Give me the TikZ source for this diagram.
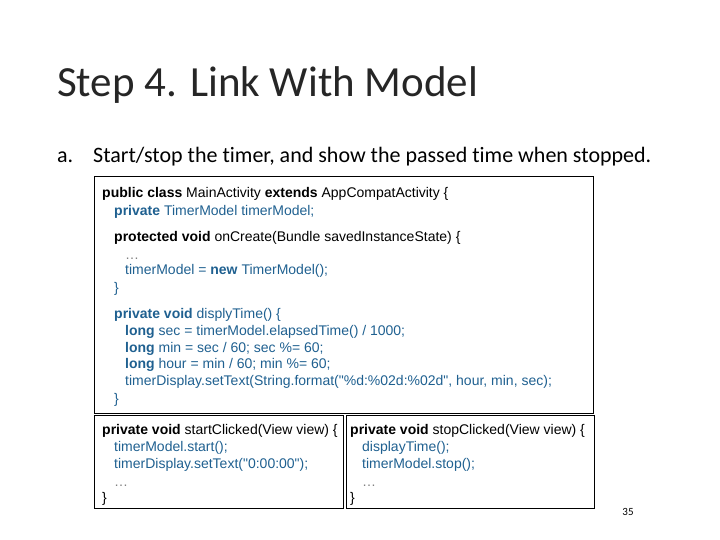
\documentclass[tikz,border=0pt]{standalone}
\usepackage{fontspec}
\setmainfont{Carlito}[Ligatures={NoCommon}]
\newfontfamily\codefont{Liberation Sans}
\usetikzlibrary{positioning}
\definecolor{kwblue}{HTML}{1F6090}
\definecolor{dotgray}{HTML}{808080}
\tikzstyle{codeline} = [anchor=base west, inner sep=0pt, font=\codefont\fontsize{14}{16}\selectfont, text=kwblue]
\tikzstyle{codebox} = [draw=black, line width=0.8pt]
\newcommand{\kw}[1]{\textbf{#1}}

\begin{document}
\begin{tikzpicture}[x=1pt,y=1pt]
\useasboundingbox (0,0) rectangle (720,-540);

% Title and task
\node (title) at (57,-97) [anchor=base west, inner sep=0pt, font=\fontsize{43}{47}\selectfont, text=black!85] {Step 4. Link With Model};
\node (itema) at (57,-163) [anchor=base west, inner sep=0pt, font=\fontsize{22}{26}\selectfont] {a.};
\node (task) at (93,-163) [anchor=base west, inner sep=0pt, font=\fontsize{22}{26}\selectfont] {Start/stop the timer, and show the passed time when stopped.};

% Boxes
\draw [codebox] (94,-176) rectangle (593,-413);
\draw [codebox] (94,-415) rectangle (343,-508);
\draw [codebox] (346,-415) rectangle (594,-508);

% Main class
\node (l1) at (102,-198) [codeline, text=black] {\kw{public class} MainActivity \kw{extends} AppCompatActivity \{};
\node (l2) at (114,-215) [codeline] {\kw{private} TimerModel timerModel;};
\node (l3) at (114,-241) [codeline, text=black] {\kw{protected void} onCreate(Bundle savedInstanceState) \{};
\node (l4) at (125,-259) [codeline, text=dotgray] {\dots};
\node (l5) at (125,-274) [codeline] {timerModel = \kw{new} TimerModel();};
\node (l6) at (114,-292) [codeline] {\}};
\node (l7) at (114,-318) [codeline] {\kw{private void} displyTime() \{};
\node (l8) at (125,-335) [codeline] {\kw{long} sec = timerModel.elapsedTime() / 1000;};
\node (l9) at (125,-352) [codeline] {\kw{long} min = sec / 60; sec \%= 60;};
\node (l10) at (125,-368) [codeline] {\kw{long} hour = min / 60; min \%= 60;};
\node (l11) at (125,-385) [codeline] {timerDisplay.setText(String.format("\%d:\%02d:\%02d", hour, min, sec);};
\node (l12) at (114,-403) [codeline] {\}};

% Start handler
\node (s1) at (102,-434) [codeline, text=black] {\kw{private void} startClicked(View view) \{};
\node (s2) at (114,-451) [codeline] {timerModel.start();};
\node (s3) at (114,-468) [codeline] {timerDisplay.setText("0:00:00");};
\node (s4) at (114,-486) [codeline, text=dotgray] {\dots};
\node (s5) at (102,-502) [codeline, text=black] {\}};

% Stop handler
\node (t1) at (350,-434) [codeline, text=black] {\kw{private void} stopClicked(View view) \{};
\node (t2) at (362,-451) [codeline] {displayTime();};
\node (t3) at (362,-468) [codeline] {timerModel.stop();};
\node (t4) at (362,-486) [codeline, text=dotgray] {\dots};
\node (t5) at (350,-502) [codeline, text=black] {\}};

% Page number
\node (page) at (628,-515) [anchor=base, inner sep=0pt, font=\fontsize{11}{13}\selectfont] {35};

\end{tikzpicture}
\end{document}
